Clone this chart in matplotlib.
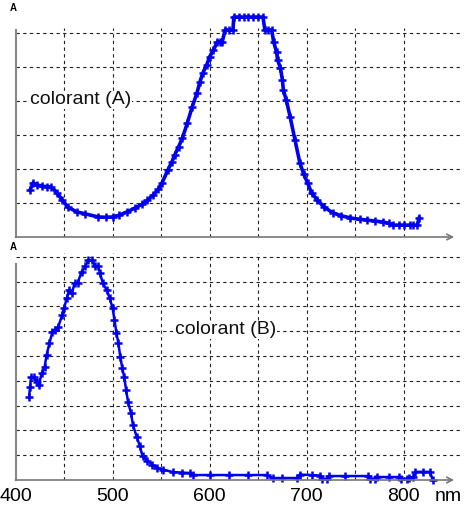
import matplotlib.pyplot as plt

plt.rcParams['font.family'] = ['Liberation Sans', 'DejaVu Sans']

# colorant (A)
wl_a = [415, 418, 422, 427, 432, 437, 443, 448, 454, 463, 472, 485, 493, 500,
        507, 515, 523, 530, 536, 542, 547, 551, 557, 561, 564, 568, 572, 577,
        582, 587, 590, 593, 597, 600, 604, 608, 611, 613, 616, 620, 624, 625,
        630, 635, 640, 645, 650, 655, 657, 660, 664, 666, 669, 670, 673, 675,
        676, 679, 683, 688, 693, 697, 701, 705, 711, 718, 727, 735, 745, 755,
        762, 770, 779, 785, 789, 795, 800, 806, 810, 814, 816]
abs_a = [1.38, 1.59, 1.53, 1.50, 1.48, 1.47, 1.29, 1.09, 0.88, 0.74, 0.68, 0.59,
         0.58, 0.59, 0.64, 0.74, 0.85, 0.96, 1.08, 1.24, 1.40, 1.59, 1.97, 2.20,
         2.41, 2.65, 2.91, 3.35, 3.82, 4.24, 4.56, 4.82, 5.06, 5.30, 5.50, 5.74,
         5.74, 5.74, 6.09, 6.09, 6.09, 6.47, 6.47, 6.47, 6.47, 6.47, 6.47, 6.47,
         6.09, 6.09, 6.09, 5.74, 5.44, 5.21, 4.97, 4.62, 4.32, 4.03, 3.53, 2.85,
         2.18, 1.85, 1.59, 1.30, 1.09, 0.88, 0.71, 0.63, 0.56, 0.52, 0.50, 0.47,
         0.44, 0.40, 0.35, 0.35, 0.35, 0.35, 0.35, 0.35, 0.56]

# colorant (B)
wl_b = [414, 415, 416, 419, 422, 424, 427, 430, 432, 435, 438, 441, 444, 448,
        450, 453, 455, 458, 461, 464, 468, 472, 475, 479, 482, 485, 487, 490,
        494, 497, 500, 502, 504, 506, 508, 510, 512, 514, 516, 519, 521, 525,
        528, 531, 536, 541, 546, 552, 562, 572, 580, 583, 600, 620, 640, 659,
        665, 675, 690, 693, 705, 714, 716, 721, 723, 740, 763, 765, 770, 772,
        785, 795, 797, 803, 805, 810, 812, 820, 827, 830]
abs_b = [3.35, 3.75, 4.15, 4.15, 3.95, 3.83, 4.30, 4.56, 5.04, 5.52, 5.97, 6.05,
         6.17, 6.65, 6.94, 7.34, 7.66, 7.54, 7.94, 7.94, 8.39, 8.63, 8.87, 8.87,
         8.63, 8.63, 8.35, 7.94, 7.66, 7.34, 6.94, 6.45, 5.93, 5.52, 4.96, 4.52,
         4.15, 3.63, 3.14, 2.70, 2.22, 1.73, 1.38, 0.95, 0.78, 0.62, 0.50, 0.42,
         0.32, 0.30, 0.28, 0.20, 0.20, 0.20, 0.20, 0.20, 0.08, 0.08, 0.08, 0.22,
         0.20, 0.18, 0.04, 0.04, 0.16, 0.16, 0.16, 0.05, 0.05, 0.12, 0.12, 0.12,
         0.04, 0.04, 0.10, 0.12, 0.33, 0.33, 0.33, 0.0]

xticks = [400, 500, 600, 700, 800]

fig = plt.figure(figsize=(4.7, 5.12), dpi=100)
ax1 = fig.add_axes([0.033, 0.5371, 0.9457, 0.4383])
ax2 = fig.add_axes([0.033, 0.0625, 0.9457, 0.4456])

panels = [(ax1, wl_a, abs_a, 6, 6.6, 6.1, 'colorant (A)', 415, 4.03, 2.6),
          (ax2, wl_b, abs_b, 9, 9.2, 8.7, 'colorant (B)', 564, 6.05, 1.8)]

for ax, x, y, ngrid, ytop, spine_top, label, lx, ly, lw in panels:
    ax.set_xlim(400, 858)
    ax.set_ylim(0, ytop)
    # dashed grid
    for g in range(1, ngrid + 1):
        ax.plot([400, 858], [g, g], color='#222222', lw=0.8,
                dashes=(3, 3), zorder=1)
    for g in range(450, 801, 50):
        ax.plot([g, g], [0, ngrid + 0.15], color='#222222', lw=0.8,
                dashes=(3, 3), zorder=1)
    ax.plot(x, y, color='#0000ee', lw=lw, marker='+', ms=6, mew=1.8,
            zorder=3, clip_on=False)
    for s in ['top', 'right', 'bottom']:
        ax.spines[s].set_visible(False)
    ax.spines['left'].set_color('#888888')
    ax.spines['left'].set_linewidth(1.5)
    ax.spines['left'].set_bounds(0, spine_top)
    ax.annotate('', xy=(852, 0), xytext=(400, 0),
                arrowprops=dict(arrowstyle='->', color='#777777', lw=1.2,
                                shrinkA=0, shrinkB=0),
                annotation_clip=False)
    ax.set_yticks([])
    ax.text(lx, ly, label, fontsize=14, color='#111111', va='center',
            ha='left', zorder=4,
            bbox=dict(facecolor='white', edgecolor='none', pad=0.5))
    ax.text(-0.004, ytop, 'A', transform=ax.get_yaxis_transform(),
            fontsize=7, fontweight='bold', ha='center', va='bottom')

ax1.set_xticks([])
ax2.set_xticks(xticks)
ax2.set_xticklabels([str(t) for t in xticks])
ax2.tick_params(axis='x', length=0, pad=6, labelsize=14)
trans, va, ha = ax2.get_xaxis_text1_transform(6)
ax2.text(832, 0, 'nm', fontsize=14, ha='left', va=va, transform=trans)

fig.savefig('out.png', dpi=100)
